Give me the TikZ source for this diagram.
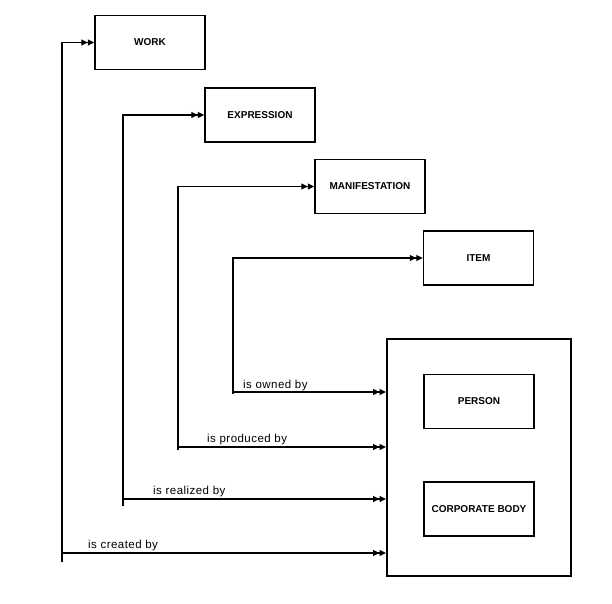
\documentclass[tikz,border=0pt]{standalone}
\usepackage{fontspec}
\setmainfont{Liberation Sans}
\newfontfamily\labfont[LetterSpace=4]{Liberation Sans}
\usetikzlibrary{arrows.meta}
\tikzset{
  box/.style={draw, line width=1.4pt, minimum width=110pt, minimum height=54pt, inner sep=0pt,
    font=\fontsize{10}{12}\selectfont\bfseries},
  bigbox/.style={draw, line width=2pt, inner sep=0pt},
  conn/.style={line width=1.3pt},
  arr/.style={conn, -{Triangle[length=6.5pt,width=6pt]Triangle[length=6.5pt,width=6pt]}},
  lab/.style={anchor=base west, inner sep=0pt, font=\fontsize{11.5}{13}\labfont}
}
\begin{document}
\begin{tikzpicture}[x=1pt,y=-1pt]
\useasboundingbox (0,0) rectangle (612,603);
% entity boxes
\node[box] (work) at (150,42.5) {WORK};
\node[box] (expr) at (260,115) {EXPRESSION};
\node[box] (manif) at (370,186.5) {MANIFESTATION};
\node[box] (item) at (478.5,258) {ITEM};
\node[bigbox, minimum width=184pt, minimum height=237pt] (big) at (479,457.5) {};
\node[box] (person) at (479,401.5) {PERSON};
\node[box] (corp) at (479,509) {CORPORATE BODY};
% vertical lines bottoms
\coordinate (c1) at (62,562);
\coordinate (c2) at (123,506);
\coordinate (c3) at (178,450);
\coordinate (c4) at (233,394);
% horizontal starts
\coordinate (h1) at (62,553);
\coordinate (h2) at (123,499);
\coordinate (h3) at (178,447);
\coordinate (h4) at (233,392);
% upward connectors
\draw[arr] (c1) |- (work.west);
\draw[arr] (c2) |- (expr.west);
\draw[arr] (c3) |- (manif.west);
\draw[arr] (c4) |- (item.west);
% connectors to group box
\draw[arr] (h1) -- (h1 -| big.west);
\draw[arr] (h2) -- (h2 -| big.west);
\draw[arr] (h3) -- (h3 -| big.west);
\draw[arr] (h4) -- (h4 -| big.west);
% labels
\node[lab] (l4) at (243,388) {is owned by};
\node[lab] (l3) at (207,442) {is produced by};
\node[lab] (l2) at (153,494) {is realized by};
\node[lab] (l1) at (88,548) {is created by};
\end{tikzpicture}
\end{document}
